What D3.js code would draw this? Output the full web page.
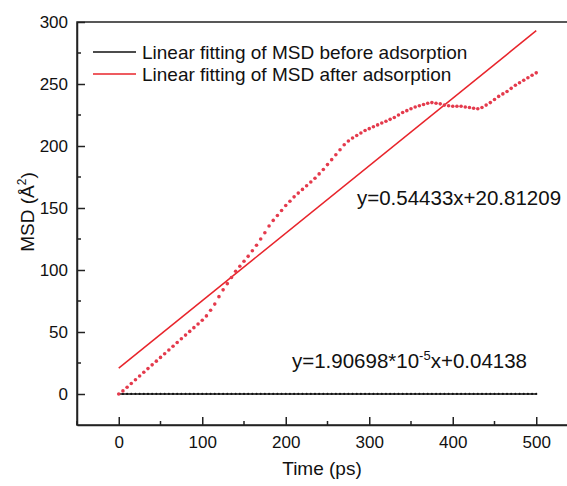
<!DOCTYPE html>
<html>
<head>
<meta charset="utf-8">
<script src="https://cdn.jsdelivr.net/npm/d3@7"></script>
<style>
  body { margin: 0; background: #fff; }
  text { font-family: "Liberation Sans", Arial, sans-serif; fill: #111; }
</style>
</head>
<body>
<div id="chart"></div>
<script>
// sampling grid (ps)
var times = d3.range(0, 505, 5);

// MSD after adsorption (dotted red data)
var msdAfter = [
  0, 2.5, 5.5, 8.5, 11.5, 14.5, 17.5, 20.5, 23.5, 26.5,
  29.5, 32.5, 35.5, 38.5, 41.5, 44.5, 47.5, 50.5, 53.5, 56.5,
  59.5, 63, 67.5, 72.5, 78.5, 84, 89, 94, 99, 103,
  107, 111, 115.5, 120, 125, 130, 135.5, 140, 144, 148,
  152, 155.5, 159, 162, 165, 168, 171, 174, 177.5, 181,
  185, 189, 193, 197, 201, 204, 206.5, 208.5, 210.5, 212.5,
  214, 215.5, 217, 218.5, 220, 221.5, 223, 225, 227, 228.5,
  230, 231.5, 232.5, 233.5, 234.5, 235, 234.5, 234, 233, 232.5,
  232, 232, 232, 231.5, 231, 230.5, 230, 231, 233, 235,
  237.5, 240, 242, 244, 246.5, 249, 251, 253, 255, 257,
  259
];

// MSD before adsorption (dotted black data, essentially flat)
var msdBefore = [
  0, 0.02, 0.03, 0.03, 0.04, 0.04, 0.03, 0.04, 0.05, 0.04,
  0.04, 0.03, 0.04, 0.05, 0.04, 0.04, 0.05, 0.04, 0.03, 0.04,
  0.04, 0.05, 0.04, 0.04, 0.03, 0.04, 0.05, 0.04, 0.04, 0.05,
  0.04, 0.04, 0.03, 0.04, 0.05, 0.04, 0.04, 0.05, 0.04, 0.04,
  0.05, 0.04, 0.04, 0.03, 0.04, 0.05, 0.04, 0.04, 0.05, 0.04,
  0.04, 0.05, 0.04, 0.04, 0.03, 0.04, 0.05, 0.04, 0.04, 0.05,
  0.04, 0.04, 0.05, 0.04, 0.04, 0.03, 0.04, 0.05, 0.04, 0.04,
  0.05, 0.04, 0.04, 0.05, 0.04, 0.04, 0.03, 0.04, 0.05, 0.04,
  0.04, 0.05, 0.04, 0.04, 0.05, 0.04, 0.04, 0.03, 0.04, 0.05,
  0.04, 0.04, 0.05, 0.04, 0.04, 0.05, 0.04, 0.04, 0.05, 0.04,
  0.05
];

// fitted lines, endpoints at t = 0 and t = 500
var fitTimes = [0, 500];
var fitBefore = [0.04138, 0.05091];
var fitAfter = [20.81, 292.98];

var xTicks = [0, 100, 200, 300, 400, 500];
var yTicks = [0, 50, 100, 150, 200, 250, 300];
var xMinor = [-50, 50, 150, 250, 350, 450, 550];
var yMinor = [25, 75, 125, 175, 225, 275];

var legendLabels = ["Linear fitting of MSD before adsorption", "Linear fitting of MSD after adsorption"];

var width = 567, height = 486;
var margin = {left: 77, top: 22, right: -11, bottom: 61};

var x = d3.scaleLinear().domain([-50, 550]).range([margin.left, width - margin.right]);
var y = d3.scaleLinear().domain([-25, 300]).range([height - margin.bottom, margin.top]);

var svg = d3.select("#chart").append("svg")
    .attr("width", width)
    .attr("height", height);

var red = "#e8242b";
var dotRed = "#e43a4c";

// plot frame
svg.append("rect")
    .attr("x", x(-50))
    .attr("y", y(300))
    .attr("width", x(550) - x(-50))
    .attr("height", y(-25) - y(300))
    .attr("fill", "none")
    .attr("stroke", "#222")
    .attr("stroke-width", 1.5);

// axes with inward ticks
var xAxis = svg.append("g")
    .attr("transform", "translate(0," + y(-25) + ")")
    .call(d3.axisBottom(x).tickValues(xTicks).tickSizeInner(-8).tickSizeOuter(0).tickPadding(11));
xAxis.selectAll("text").attr("font-size", 17).style("font-family", "Liberation Sans, Arial, sans-serif");

var yAxis = svg.append("g")
    .attr("transform", "translate(" + x(-50) + ",0)")
    .call(d3.axisLeft(y).tickValues(yTicks).tickSizeInner(-8).tickSizeOuter(0).tickPadding(9));
yAxis.selectAll("text").attr("font-size", 17).style("font-family", "Liberation Sans, Arial, sans-serif");

[xAxis, yAxis].forEach(function (g) {
    g.select(".domain").attr("stroke", "#222").attr("stroke-width", 1.5);
    g.selectAll(".tick line").attr("stroke", "#222").attr("stroke-width", 1.5);
    g.selectAll("text").attr("fill", "#111");
});

svg.selectAll(".xminor")
    .data(xMinor)
    .enter().append("line")
    .attr("x1", function (d) { return x(d); })
    .attr("x2", function (d) { return x(d); })
    .attr("y1", y(-25))
    .attr("y2", y(-25) - 4)
    .attr("stroke", "#222").attr("stroke-width", 1.5);

svg.selectAll(".yminor")
    .data(yMinor)
    .enter().append("line")
    .attr("x1", x(-50))
    .attr("x2", x(-50) + 4)
    .attr("y1", function (d) { return y(d); })
    .attr("y2", function (d) { return y(d); })
    .attr("stroke", "#222").attr("stroke-width", 1.5);

// axis titles
svg.append("text")
    .attr("x", 322)
    .attr("y", 475)
    .attr("text-anchor", "middle")
    .attr("font-size", 19)
    .text("Time (ps)");

var yt = svg.append("text")
    .attr("transform", "translate(34,212) rotate(-90)")
    .attr("text-anchor", "middle")
    .attr("font-size", 19);
yt.append("tspan").text("MSD (Å");
yt.append("tspan").attr("font-size", 12).attr("dy", -8).text("2");
yt.append("tspan").attr("dy", 8).text(")");

var line = d3.line()
    .x(function (d) { return x(d[0]); })
    .y(function (d) { return y(d[1]); });

// fitted lines
svg.append("path")
    .datum(d3.zip(fitTimes, fitBefore))
    .attr("d", line)
    .attr("fill", "none")
    .attr("stroke", "#111")
    .attr("stroke-width", 1.5);

svg.append("path")
    .datum(d3.zip(fitTimes, fitAfter))
    .attr("d", line)
    .attr("fill", "none")
    .attr("stroke", red)
    .attr("stroke-width", 1.5);

// data points
svg.selectAll(".before")
    .data(d3.zip(times, msdBefore))
    .enter().append("circle")
    .attr("cx", function (d) { return x(d[0]); })
    .attr("cy", function (d) { return y(d[1]); })
    .attr("r", 1.1)
    .attr("fill", "#111");

svg.selectAll(".after")
    .data(d3.zip(times, msdAfter))
    .enter().append("circle")
    .attr("cx", function (d) { return x(d[0]); })
    .attr("cy", function (d) { return y(d[1]); })
    .attr("r", 1.8)
    .attr("fill", dotRed);

// legend
var legend = svg.selectAll(".legend")
    .data(legendLabels)
    .enter().append("g")
    .attr("transform", function (d, i) { return "translate(93," + (52 + i * 22) + ")"; });

legend.append("line")
    .attr("x1", 0).attr("x2", 43)
    .attr("stroke", function (d, i) { return i === 0 ? "#111" : red; })
    .attr("stroke-width", 1.5);

legend.append("text")
    .attr("x", 49)
    .attr("dy", "0.35em")
    .attr("font-size", 19)
    .text(function (d) { return d; });

// equations
svg.append("text")
    .attr("x", 357)
    .attr("y", 205)
    .attr("font-size", 20.5)
    .text("y=0.54433x+20.81209");

var eq = svg.append("text")
    .attr("x", 292)
    .attr("y", 368)
    .attr("font-size", 20.5);
eq.append("tspan").text("y=1.90698*10");
eq.append("tspan").attr("font-size", 13).attr("dy", -8).text("-5");
eq.append("tspan").attr("dy", 8).text("x+0.04138");
</script>
</body>
</html>
